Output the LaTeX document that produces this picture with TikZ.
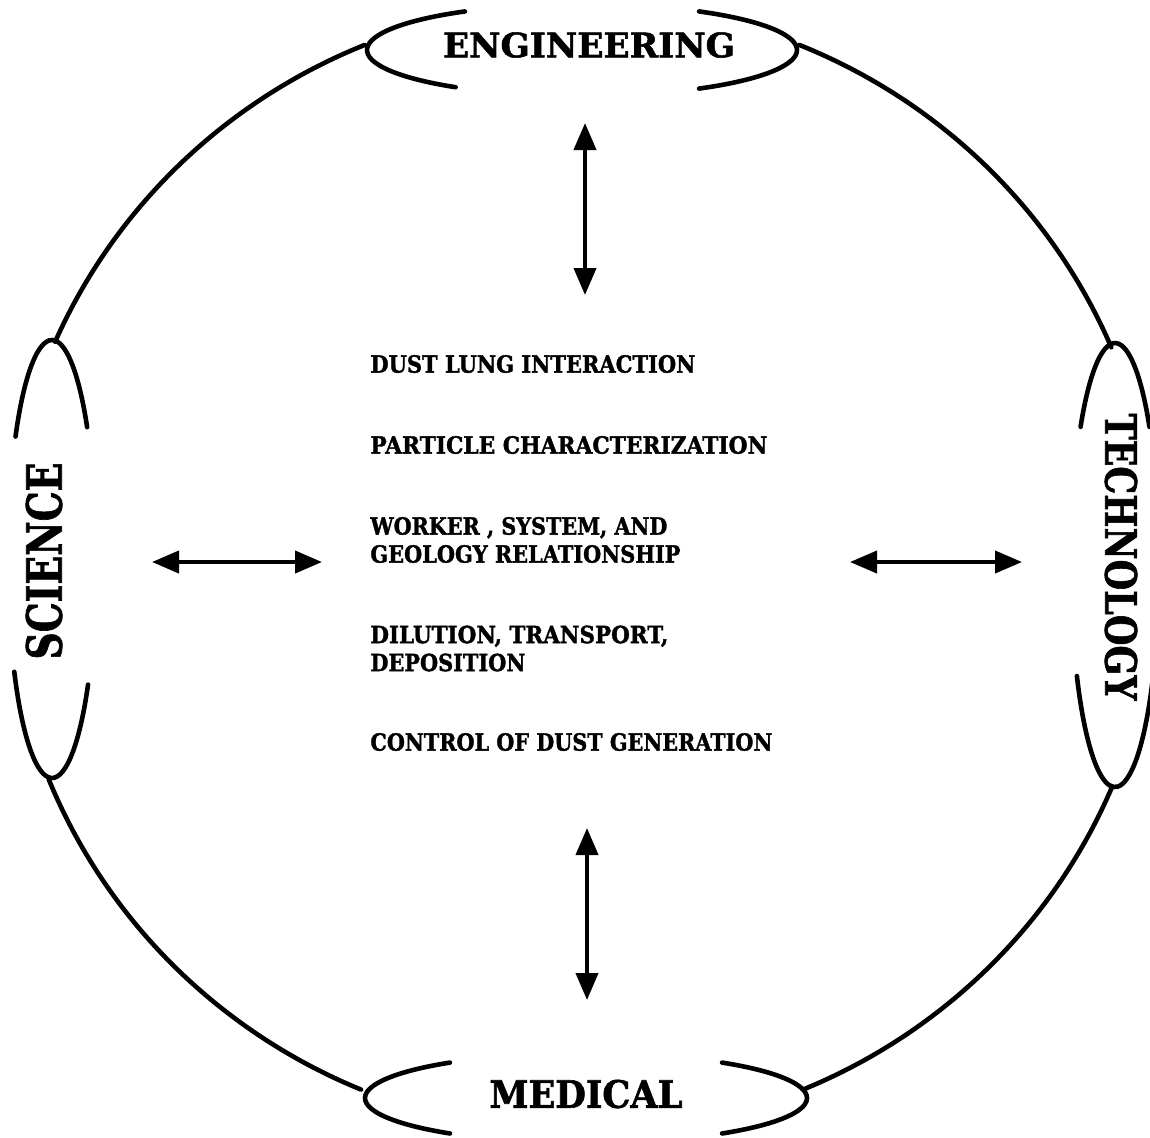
\documentclass[tikz,border=0pt]{standalone}
\usepackage{fontspec}
\setmainfont{DejaVu Serif}[BoldFeatures={FakeBold=1.6}]
\usepackage{graphicx}
\usetikzlibrary{arrows.meta,calc}
\newcommand\fitbox[3]{\resizebox{#1pt}{#2pt}{\bfseries #3}}
\newcommand\earc[6]{\draw[rim] ($(#1,#2)+(#5:#3 and #4)$) arc[start angle=#5,end angle=#6,x radius=#3,y radius=#4];}
\begin{document}
\begin{tikzpicture}[x=0.5pt,y=-0.5pt,
  rim/.style={line width=2.3pt,line cap=round},
  dbl/.style={line width=2pt,{Triangle[length=13.5pt,width=11pt]}-{Triangle[length=13.5pt,width=11pt]}},
  item/.style={anchor=west,inner sep=0pt,align=left,font=\fontsize{10pt}{14pt}\selectfont},
  lab/.style={inner sep=0pt}]
\useasboundingbox (0,0) rectangle (1150,1137);
% big circle segments
\earc{582}{568}{575}{565}{-67.8}{-23}
\earc{582}{568}{575}{565}{22.8}{67.4}
\earc{582}{568}{575}{565}{112.6}{158}
\earc{582}{568}{575}{565}{203.6}{247.8}
% top ellipse
\earc{582}{50}{215}{46}{126}{237}
\earc{582}{50}{215}{46}{-57}{57}
% bottom ellipse
\earc{586}{1098}{221}{45}{128}{232}
\earc{586}{1098}{221}{45}{-52}{52}
% left ellipse
\earc{52}{559}{44}{219}{214}{323}
\earc{52}{559}{44}{219}{35}{149}
% right ellipse
\earc{1115}{565}{44}{222}{218.5}{321.5}
\earc{1115}{565}{44}{222}{30}{150}
% labels
\node[lab] (eng) at (589,45) {\fitbox{146}{12.5}{ENGINEERING}};
\node[lab] (med) at (586,1094) {\fitbox{96.5}{14}{MEDICAL}};
\node[lab,rotate=90] (sci) at (44,561) {\fitbox{98.5}{18}{SCIENCE}};
\node[lab,rotate=-90] (tech) at (1121,557) {\fitbox{143.5}{16}{TECHNOLOGY}};
% centre items
\node[item] (dust) at (370,364) {\fitbox{162.5}{8.75}{DUST LUNG INTERACTION}};
\node[item] (part) at (370,445) {\fitbox{198.5}{8.75}{PARTICLE CHARACTERIZATION}};
\node[item] (work) at (370,540) {\fitbox{148.5}{8.75}{WORKER , SYSTEM, AND}\\\fitbox{155}{8.75}{GEOLOGY RELATIONSHIP}};
\node[item] (dil) at (370,648.5) {\fitbox{149}{8.75}{DILUTION, TRANSPORT,}\\\fitbox{77.5}{8.75}{DEPOSITION}};
\node[item] (ctrl) at (370,742) {\fitbox{201}{8.75}{CONTROL OF DUST GENERATION}};
% arrows
\coordinate (ta) at (585,123);
\coordinate (tb) at (585,295);
\coordinate (ba) at (587,828);
\coordinate (bb) at (587,1000);
\coordinate (la) at (152,562);
\coordinate (lb) at (322,562);
\coordinate (ra) at (850,562);
\coordinate (rb) at (1022,562);
\draw[dbl] (ta) -- (tb);
\draw[dbl] (ba) -- (bb);
\draw[dbl] (la) -- (lb);
\draw[dbl] (ra) -- (rb);
\end{tikzpicture}
\end{document}
